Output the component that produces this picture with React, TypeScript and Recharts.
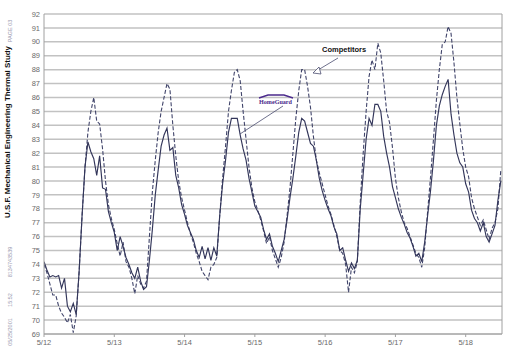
import React from 'react';
import { LineChart, Line, XAxis, YAxis, CartesianGrid, ReferenceLine } from 'recharts';

// hourly readings starting 5/12 00:00
const homeGuard = [
  74.2, 73.6, 73.1, 73.2, 73.1, 73.2, 72.3, 73.0, 71.0, 70.6, 71.2, 70.4, 73.5, 77.5, 81.0, 82.8, 82.1, 81.6, 80.4, 81.8, 79.5, 79.4, 77.8, 77.0, 76.3,
  75.0, 76.0, 75.3, 74.5, 74.0, 73.4, 73.0, 73.8, 72.8, 72.2, 72.4, 74.3, 76.5, 79.0, 80.8, 82.5, 83.3, 83.8, 82.2, 82.4, 80.4, 79.5, 78.3, 77.6,
  76.8, 76.3, 75.8, 75.0, 74.5, 75.3, 74.4, 75.2, 74.3, 75.2, 74.6, 77.5, 79.8, 81.5, 83.5, 84.5, 84.5, 84.5, 83.3, 82.3, 81.5, 80.2, 79.2, 78.2,
  77.8, 77.4, 76.5, 75.8, 76.2, 75.3, 74.8, 74.2, 75.0, 75.8, 77.2, 78.8, 80.2, 81.8, 83.5, 84.5, 84.3, 83.5, 82.7, 82.5, 81.5, 80.2, 79.3, 78.6,
  78.0, 77.5, 76.7, 76.2, 75.0, 75.2, 74.3, 73.5, 74.1, 73.7, 74.3, 78.0, 80.5, 83.0, 84.5, 84.0, 85.5, 85.5, 85.0, 83.2, 82.0, 81.0, 79.6, 78.8,
  78.0, 77.4, 76.9, 76.3, 75.9, 75.3, 74.6, 74.8, 74.2, 75.6, 77.5, 79.3, 81.5, 84.0, 85.4, 86.2, 86.8, 87.3, 84.8, 83.3, 82.0, 81.3, 81.0, 79.8,
  79.2, 77.9, 77.3, 77.0, 76.4, 77.0, 76.0, 75.6, 76.2, 76.8, 78.6, 80.0,
];
const competitors = [
  74.0, 73.4, 72.6, 71.8, 71.8, 71.0, 70.5, 70.2, 69.8, 70.4, 69.1, 70.3, 73.5, 77.5, 81.0, 83.5, 85.0, 86.0, 84.3, 84.1, 82.3, 80.0, 78.3, 77.3, 76.5,
  75.5, 74.6, 75.6, 74.2, 73.8, 73.0, 71.9, 73.2, 72.6, 72.3, 72.8, 76.0, 79.2, 81.5, 83.5, 85.0, 86.0, 87.0, 86.6, 84.0, 81.8, 80.0, 78.8, 77.9,
  77.0, 76.2, 75.6, 74.8, 74.2, 73.5, 73.2, 72.9, 73.8, 74.0, 74.5, 77.5, 80.2, 82.5, 85.0, 86.5, 87.8, 88.0, 87.2, 85.0, 83.0, 81.0, 79.5, 78.5,
  77.9, 77.2, 76.4, 75.5, 76.0, 75.0, 74.4, 73.8, 74.5, 75.6, 77.5, 79.5, 82.0, 84.5, 86.5, 88.0, 88.0, 86.8, 85.3, 83.2, 81.5, 80.6, 79.8, 79.0,
  78.2, 77.6, 76.8, 76.0, 75.0, 74.8, 74.0, 72.0, 73.8, 73.4, 74.2, 78.5, 82.0, 85.0, 87.5, 88.7, 88.0, 89.9, 89.2, 87.2, 85.0, 84.2, 82.4, 80.2,
  78.8, 77.8, 77.0, 76.6, 76.0, 75.4, 74.8, 74.5, 73.8, 75.2, 77.8, 80.3, 83.0, 85.8, 88.0, 89.8, 90.0, 91.1, 90.6, 88.5, 86.0, 84.1, 82.3, 81.0,
  80.3, 78.8, 78.0, 77.4, 76.8, 77.2, 76.5, 75.8, 76.6, 77.0, 78.0, 80.8,
];
const dayTicks = [0, 24, 48, 72, 96, 120, 144];
const dayLabels = ['5/12', '5/13', '5/14', '5/15', '5/16', '5/17', '5/18'];
const tempTicks = [69, 70, 71, 72, 73, 74, 75, 76, 77, 78, 79, 80, 81, 82, 83, 84, 85, 86, 87, 88, 89, 90, 91, 92];

const data = homeGuard.map((v, i) => ({ h: i, hg: v, comp: competitors[i] }));

const FONT = '"Liberation Sans", Arial, sans-serif';

export default function App() {
  return (
    <div style={{ position: 'absolute', left: 0, top: 0, width: 512, height: 358, background: '#fff' }}>
      <LineChart width={512} height={358} data={data} margin={{ top: 14, right: 10, bottom: 0, left: 0 }}>
        <CartesianGrid vertical={false} stroke="#c2c2c2" strokeWidth={1.5} />
        <XAxis
          type="number"
          dataKey="h"
          domain={[0, 156.4]}
          ticks={dayTicks}
          tickFormatter={(v) => dayLabels[dayTicks.indexOf(v)]}
          height={24}
          tickSize={3}
          tickMargin={3}
          tick={{ fontSize: 7.5, fill: '#6a6a6a', fontFamily: FONT }}
          axisLine={{ stroke: '#a0a0a0' }}
          tickLine={{ stroke: '#a0a0a0' }}
          allowDataOverflow
        />
        <YAxis
          type="number"
          domain={[69, 92]}
          ticks={tempTicks}
          width={44}
          tickSize={0}
          tickMargin={4}
          interval={0}
          tick={{ fontSize: 7.5, fill: '#6a6a6a', fontFamily: FONT }}
          axisLine={{ stroke: '#a0a0a0' }}
          tickLine={false}
        />
        <ReferenceLine x={156.4} stroke="#a0a0a0" />
        <Line type="linear" dataKey="comp" stroke="#40446a" strokeWidth={1.1} strokeDasharray="4 2" dot={false} isAnimationActive={false} />
        <Line type="linear" dataKey="hg" stroke="#33365a" strokeWidth={1.15} dot={false} isAnimationActive={false} />
      </LineChart>
      <svg width={512} height={358} style={{ position: 'absolute', left: 0, top: 0, pointerEvents: 'none' }}>
        <g fontFamily={FONT}>
          <text transform="translate(10,132) rotate(-90)" textAnchor="middle" fontSize={7.5} fontWeight="bold" fill="#111" textLength={172} lengthAdjust="spacingAndGlyphs">U.S.F. Mechanical Engineering Thermal Study</text>
          <text transform="translate(12,31) rotate(-90)" textAnchor="middle" fontSize={5.5} fill="#9a9ab0">PAGE 03</text>
          <text transform="translate(12,262) rotate(-90)" textAnchor="middle" fontSize={5.5} fill="#9a9ab0">8134743539</text>
          <text transform="translate(12,300) rotate(-90)" textAnchor="middle" fontSize={5.5} fill="#9a9ab0">15:52</text>
          <text transform="translate(12,332) rotate(-90)" textAnchor="middle" fontSize={5.5} fill="#9a9ab0">05/25/2001</text>
          <text x={322} y={52} fontSize={7.5} fontWeight="bold" fill="#111">Competitors</text>
          <line x1={338} y1={58} x2={318} y2={70} stroke="#4a4c70" strokeWidth={0.8} />
          <path d="M313,73 L319,67 L321,74 Z" fill="#fff" stroke="#4a4c70" strokeWidth={0.8} />
          <path d="M259,98 L268,95 L284,95 L293,98" fill="none" stroke="#4b2a8c" strokeWidth={1.4} />
          <text x={275.5} y={103.5} textAnchor="middle" fontSize={6.5} fontWeight="bold" fill="#4b2a8c" fontFamily='"Liberation Serif", serif' textLength={33} lengthAdjust="spacingAndGlyphs">HomeGuard</text>
          <line x1={283} y1={106} x2={240} y2={134} stroke="#4a4c70" strokeWidth={0.8} />
        </g>
      </svg>
    </div>
  );
}
